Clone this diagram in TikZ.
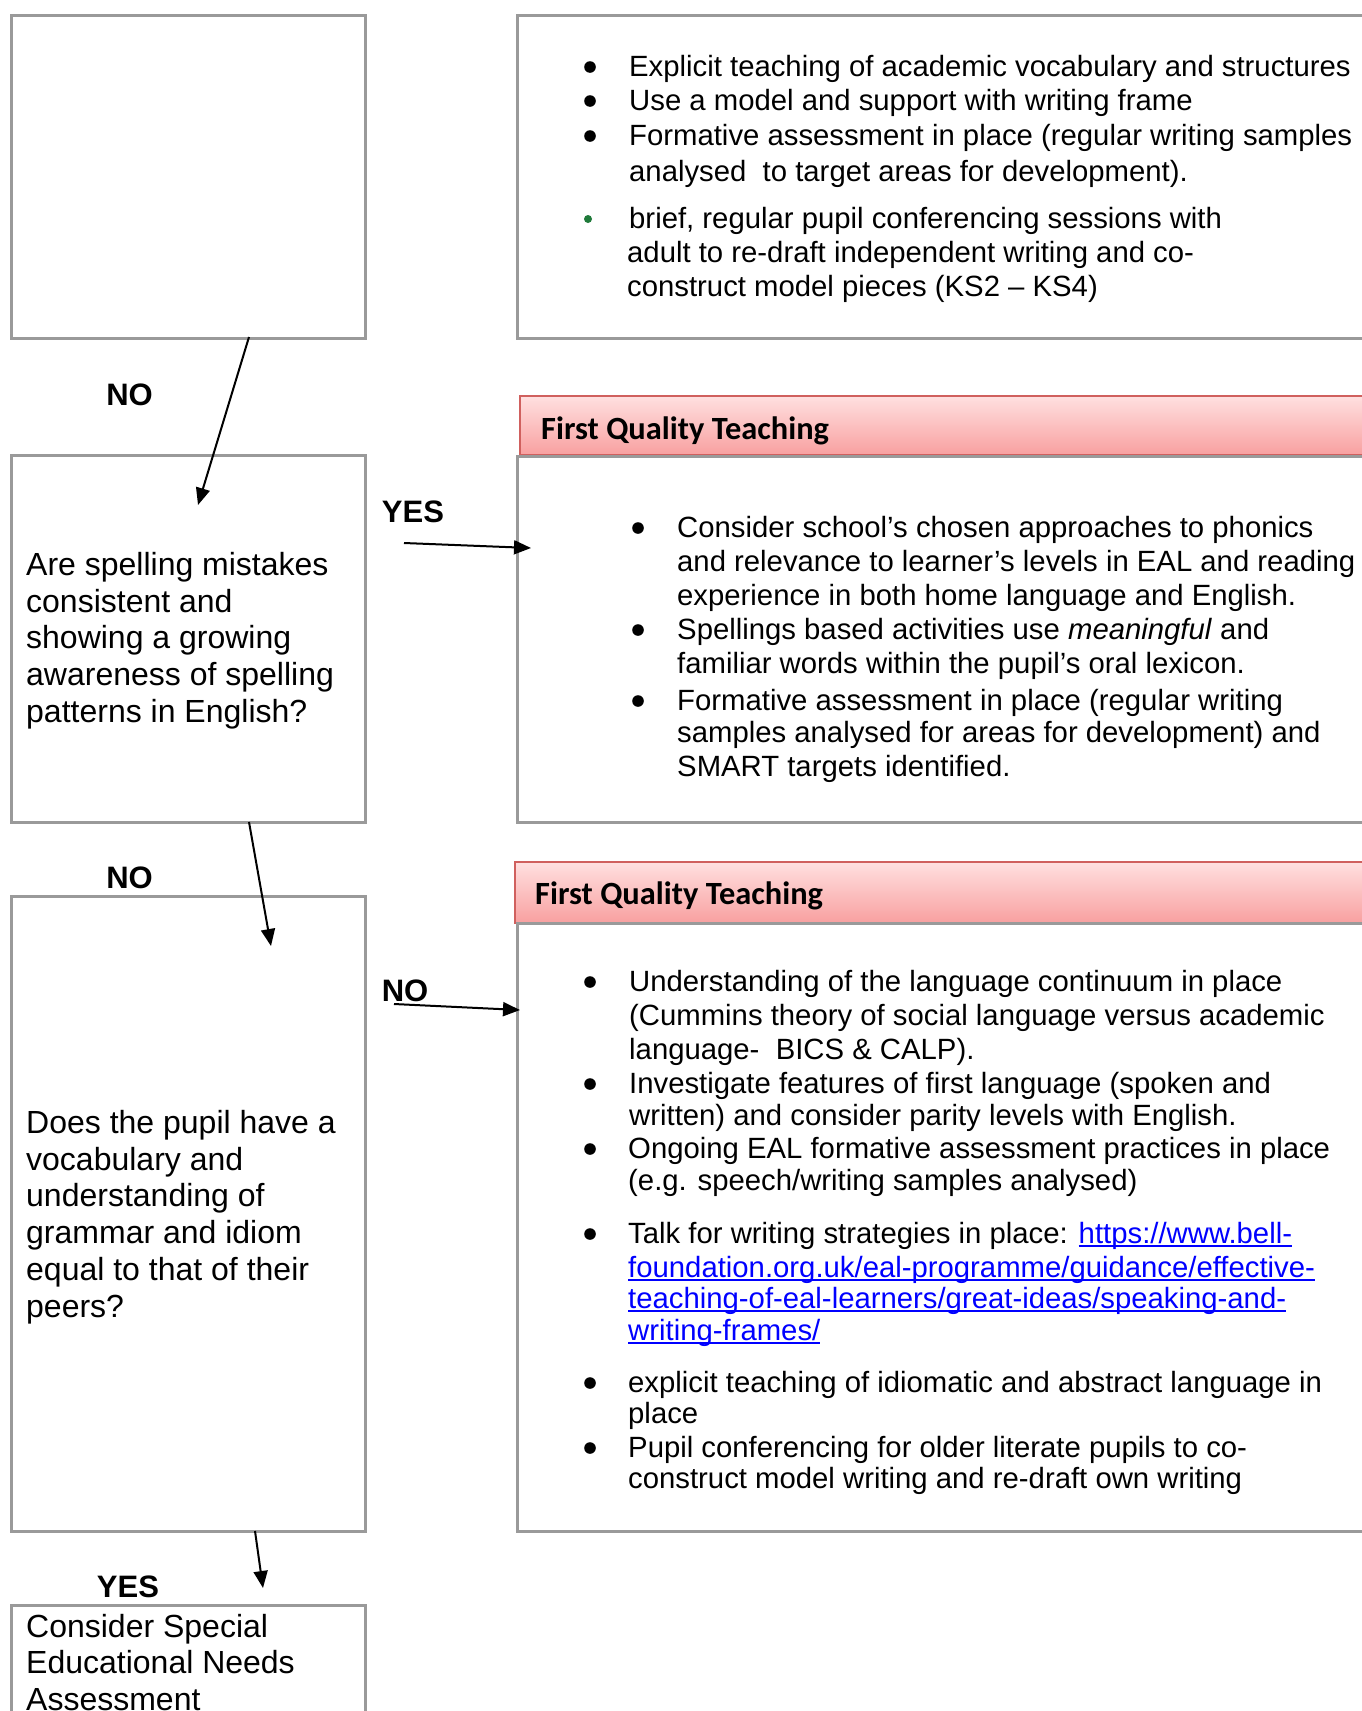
\documentclass[tikz,border=0pt]{standalone}
\usepackage{fontspec}
\setmainfont{Liberation Sans}
\newfontfamily\hdrfont{Carlito}
\usetikzlibrary{arrows.meta}
\definecolor{boxgray}{HTML}{9A9A9A}
\definecolor{hdrtop}{HTML}{FFE0E0}
\definecolor{hdrbot}{HTML}{F8A0A0}
\definecolor{hdrline}{HTML}{D0605E}
\definecolor{linkblue}{HTML}{0000FF}
\definecolor{bulgreen}{HTML}{1F7A3A}
\newsavebox\lnkbox
\newcommand\lnk[1]{\begingroup\color{linkblue}\sbox\lnkbox{#1}\rlap{\usebox\lnkbox}\rule[-3.5pt]{\wd\lnkbox}{1.4pt}\endgroup}
\tikzset{
  box/.style={draw=boxgray, line width=2.5pt, anchor=north west, inner sep=0pt},
  hdrbox/.style={draw=hdrline, line width=1.8pt, top color=hdrtop, bottom color=hdrbot, anchor=north west, inner sep=0pt},
  qtext/.style={anchor=base west, inner sep=0pt, font=\fontsize{32}{37}\selectfont},
  rtext/.style={anchor=base west, inner sep=0pt, font=\fontsize{29.3}{34}\selectfont},
  lab/.style={anchor=base, inner sep=0pt, font=\fontsize{31}{36}\selectfont\bfseries},
  hdr/.style={anchor=base west, inner sep=0pt, font=\hdrfont\fontsize{32.4}{36}\selectfont\bfseries},
  arr/.style={-{Triangle[length=17pt,width=14pt]}, line width=2pt},
  bul/.style={radius=5.8pt},
}
\begin{document}
\begin{tikzpicture}[x=1pt,y=-1pt]
\useasboundingbox (0,0) rectangle (1362,1711);
\clip (0,0) rectangle (1362,1711);
\fill[white] (0,0) rectangle (1362,1711);

% left column boxes
\node[box, minimum width=354pt, minimum height=323pt] (q0) at (10,14) {};
\node[box, minimum width=354pt, minimum height=367pt] (q1) at (10,454) {};
\node[box, minimum width=354pt, minimum height=635pt] (q2) at (10,895) {};
\node[box, minimum width=354pt, minimum height=140pt] (q3) at (10,1604) {};

% right column boxes
\node[box, minimum width=870pt, minimum height=323pt] (r0) at (516,14) {};
\node[hdrbox, minimum width=870pt, minimum height=59pt] (h1) at (519,395) {};
\node[box, minimum width=870pt, minimum height=366pt] (r1) at (516,455) {};
\node[hdrbox, minimum width=870pt, minimum height=61pt] (h2) at (514,861) {};
\node[box, minimum width=870pt, minimum height=608pt] (r2) at (516,922) {};

\node[hdr] (h1t) at (541,439) {First Quality Teaching};
\node[hdr] (h2t) at (535,904) {First Quality Teaching};

% left texts
\node[qtext] (q1a) at (26,575) {Are spelling mistakes};
\node[qtext] (q1b) at (26,612) {consistent and};
\node[qtext] (q1c) at (26,648) {showing a growing};
\node[qtext] (q1d) at (26,685) {awareness of spelling};
\node[qtext] (q1e) at (26,722) {patterns in English?};

\node[qtext] (q2a) at (26,1133) {Does the pupil have a};
\node[qtext] (q2b) at (26,1170) {vocabulary and};
\node[qtext] (q2c) at (26,1206) {understanding of};
\node[qtext] (q2d) at (26,1243) {grammar and idiom};
\node[qtext] (q2e) at (26,1280) {equal to that of their};
\node[qtext] (q2f) at (26,1317) {peers?};

\node[qtext] (q3a) at (26,1637) {Consider Special};
\node[qtext] (q3b) at (26,1673) {Educational Needs};
\node[qtext] (q3c) at (26,1710) {Assessment};

% right box 1
\fill[bul] (590,67) circle;
\node[rtext] (r0a) at (629,76) {Explicit teaching of academic vocabulary and structures};
\fill[bul] (590,101) circle;
\node[rtext] (r0b) at (629,110) {Use a model and support with writing frame};
\fill[bul] (590,136) circle;
\node[rtext] (r0c) at (629,145) {Formative assessment in place (regular writing samples};
\node[rtext] (r0d) at (629,181) {analysed\ \ to target areas for development).};
\fill[bulgreen] (588,219) circle[radius=4pt];
\node[rtext] (r0e) at (629,228) {brief, regular pupil conferencing sessions with};
\node[rtext] (r0f) at (627,262) {adult to re-draft independent writing and co-};
\node[rtext] (r0g) at (627,296) {construct model pieces (KS2 – KS4)};

% right box 2
\fill[bul] (638,528) circle;
\node[rtext] (r1a) at (677,537) {Consider school’s chosen approaches to phonics};
\node[rtext] (r1b) at (677,571) {and relevance to learner’s levels in EAL and reading};
\node[rtext] (r1c) at (677,605) {experience in both home language and English.};
\fill[bul] (638,630) circle;
\node[rtext] (r1d) at (677,639) {Spellings based activities use \textit{meaningful} and};
\node[rtext] (r1e) at (677,673) {familiar words within the pupil’s oral lexicon.};
\fill[bul] (638,701) circle;
\node[rtext] (r1f) at (677,710) {Formative assessment in place (regular writing};
\node[rtext] (r1g) at (677,742) {samples analysed for areas for development) and};
\node[rtext] (r1h) at (677,776) {SMART targets identified.};

% right box 3
\fill[bul] (590,982) circle;
\node[rtext] (r2a) at (629,991) {Understanding of the language continuum in place};
\node[rtext] (r2b) at (629,1025) {(Cummins theory of social language versus academic};
\node[rtext] (r2c) at (629,1059) {language-\ \ BICS \& CALP).};
\fill[bul] (590,1084) circle;
\node[rtext] (r2d) at (629,1093) {Investigate features of first language (spoken and};
\node[rtext] (r2e) at (629,1125) {written) and consider parity levels with English.};
\fill[bul] (590,1149) circle;
\node[rtext] (r2f) at (628,1158) {Ongoing EAL formative assessment practices in place};
\node[rtext] (r2g) at (628,1190) {(e.g. speech/writing samples analysed)};
\fill[bul] (590,1234) circle;
\node[rtext] (r2h) at (628,1243) {Talk for writing strategies in place: \lnk{https://www.bell-}};
\node[rtext] (r2i) at (628,1277) {\lnk{foundation.org.uk/eal-programme/guidance/effective-}};
\node[rtext] (r2j) at (628,1308) {\lnk{teaching-of-eal-learners/great-ideas/speaking-and-}};
\node[rtext] (r2k) at (628,1340) {\lnk{writing-frames/}};
\fill[bul] (590,1383) circle;
\node[rtext] (r2l) at (628,1392) {explicit teaching of idiomatic and abstract language in};
\node[rtext] (r2m) at (628,1423) {place};
\fill[bul] (590,1448) circle;
\node[rtext] (r2n) at (628,1457) {Pupil conferencing for older literate pupils to co-};
\node[rtext] (r2o) at (628,1488) {construct model writing and re-draft own writing};

% labels
\node[lab] (l1) at (129.5,405) {NO};
\node[lab] (l2) at (413,522) {YES};
\node[lab] (l3) at (129.5,888) {NO};
\node[lab] (l4) at (405,1001) {NO};
\node[lab] (l5) at (128,1597) {YES};

% connector end points
\coordinate (a1s) at (249,337);
\coordinate (a1e) at (198,505);
\coordinate (a2s) at (404,543);
\coordinate (a2e) at (531,548);
\coordinate (a3s) at (249,822);
\coordinate (a3e) at (271,946);
\coordinate (a4s) at (394,1004);
\coordinate (a4e) at (520,1010);
\coordinate (a5s) at (255,1531);
\coordinate (a5e) at (263,1588);

\draw[arr] (a1s) -- (a1e);
\draw[arr] (a2s) -- (a2e);
\draw[arr] (a3s) -- (a3e);
\draw[arr] (a4s) -- (a4e);
\draw[arr] (a5s) -- (a5e);
\end{tikzpicture}
\end{document}
